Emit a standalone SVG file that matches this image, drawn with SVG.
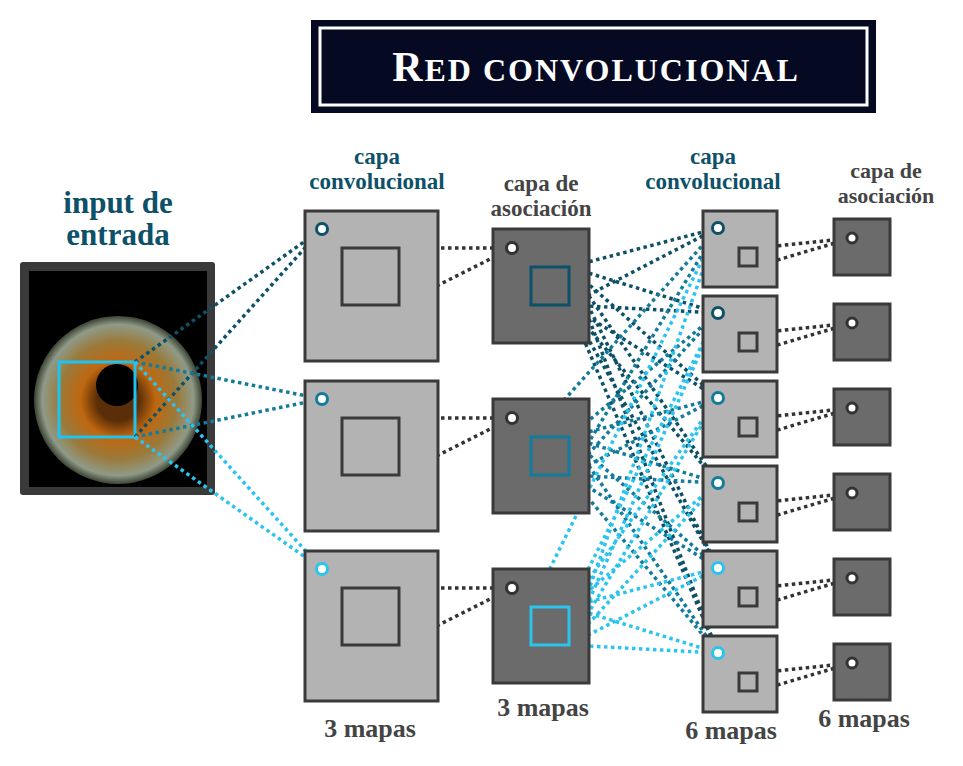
<svg xmlns="http://www.w3.org/2000/svg" width="963" height="766" viewBox="0 0 963 766">
<style>
.lbl{font-family:"Liberation Serif",serif;font-weight:bold;fill:#444;text-anchor:middle}
.tl{font-family:"Liberation Serif",serif;font-weight:bold;fill:#0d5168;text-anchor:middle}
.conv{fill:#b3b3b3;stroke:#3a3a3a;stroke-width:3}
.pool{fill:#6b6b6b;stroke:#3a3a3a;stroke-width:3}
.isq{fill:none;stroke:#3a3a3a;stroke-width:3}
.d{fill:none;stroke-width:3.5;stroke-dasharray:3.5 3.5}
.g{stroke:#333}.c1{stroke:#0d5168}.c2{stroke:#137c9c}.c3{stroke:#2ac4ef}
.wc{fill:#fff;stroke:#333;stroke-width:3}
</style>
<defs>
<radialGradient id="iris" cx="0.5" cy="0.5" r="0.5">
<stop offset="0.25" stop-color="#5a2e08"/><stop offset="0.45" stop-color="#c0670f"/><stop offset="0.7" stop-color="#9a7a3a"/><stop offset="0.9" stop-color="#8f9a88"/><stop offset="1" stop-color="#3c4434"/>
</radialGradient>
</defs>
<rect width="963" height="766" fill="#fff"/>
<g id="title">
<rect x="311" y="20" width="565" height="93" fill="#050a22"/>
<rect x="320" y="28" width="547" height="77" fill="none" stroke="#fff" stroke-width="3"/>
<text x="596" y="81" font-family="Liberation Serif,serif" font-weight="bold" font-size="42" fill="#fff" text-anchor="middle" letter-spacing="2">R<tspan font-size="32">ED CONVOLUCIONAL</tspan></text>
</g>
<g id="input">
<text class="tl" x="118" y="213" font-size="31">input de</text>
<text class="tl" x="118" y="245" font-size="31">entrada</text>
<rect x="20" y="262" width="195" height="233" rx="3" fill="#3a3a3a"/>
<rect x="29" y="271" width="178" height="216" fill="#000"/>
<circle cx="118" cy="400" r="84" fill="url(#iris)"/>
<circle cx="117" cy="385" r="21" fill="#000"/>
<rect x="59" y="362" width="76" height="75" fill="none" stroke="#1ec3f2" stroke-width="3"/>
</g>
<g id="connectors">
<g class="d c1"><path d="M135 362L322 229M135 437L322 229"/></g>
<g class="d c2"><path d="M135 362L322 399M135 437L322 399"/></g>
<g class="d c3"><path d="M135 362L322 569M135 437L322 569"/></g>
<g class="d g">
<path d="M399 248L512 248M399 305L512 248M399 418L512 418M399 475L512 418M399 588L512 588M399 645L512 588"/>
<path d="M757 248L852 238M757 266L852 238M757 333L852 323M757 351L852 323M757 418L852 408M757 436L852 408M757 503L852 493M757 521L852 493M757 588L852 578M757 606L852 578M757 673L852 663M757 691L852 663"/>
</g>
<g class="d c1"><path d="M569 267L718 228M569 305L718 228M569 267L718 313M569 305L718 313M569 267L718 398M569 305L718 398M569 267L718 483M569 305L718 483M569 267L718 568M569 305L718 568M569 267L718 653M569 305L718 653"/></g>
<g class="d c2"><path d="M531 437L718 228M569 475L718 228M569 437L718 313M569 475L718 313M569 437L718 398M569 475L718 398M569 437L718 483M569 475L718 483M569 437L718 568M569 475L718 568M569 437L718 653M569 475L718 653"/></g>
<g class="d c3"><path d="M531 607L718 228M569 645L718 228M569 607L718 313M569 645L718 313M569 607L718 398M569 645L718 398M569 607L718 483M569 645L718 483M569 607L718 568M569 645L718 568M569 607L718 653M569 645L718 653"/></g>
</g>
<g id="conv1">
<text class="tl" x="377" y="164" font-size="23">capa</text>
<text class="tl" x="377" y="189" font-size="23">convolucional</text>
<rect class="conv" x="305" y="211" width="133" height="150"/><rect class="isq" x="342" y="248" width="57" height="57"/>
<rect class="conv" x="305" y="381" width="133" height="150"/><rect class="isq" x="342" y="418" width="57" height="57"/>
<rect class="conv" x="305" y="551" width="133" height="150"/><rect class="isq" x="342" y="588" width="57" height="57"/>
<circle cx="322" cy="229" r="5.5" fill="#fff" stroke="#0d5168" stroke-width="3"/>
<circle cx="322" cy="399" r="5.5" fill="#fff" stroke="#137c9c" stroke-width="3"/>
<circle cx="322" cy="569" r="5.5" fill="#fff" stroke="#2ac4ef" stroke-width="3"/>
<text class="lbl" x="370" y="737" font-size="26">3 mapas</text>
</g>
<g id="pool1">
<text class="lbl" x="541" y="191" font-size="23">capa de</text>
<text class="lbl" x="541" y="216" font-size="23">asociación</text>
<rect class="pool" x="493" y="229" width="96" height="114"/><rect x="531" y="267" width="38" height="38" fill="none" stroke="#0d5168" stroke-width="3"/>
<rect class="pool" x="493" y="399" width="96" height="114"/><rect x="531" y="437" width="38" height="38" fill="none" stroke="#137c9c" stroke-width="3"/>
<rect class="pool" x="493" y="569" width="96" height="114"/><rect x="531" y="607" width="38" height="38" fill="none" stroke="#2ac4ef" stroke-width="3"/>
<circle class="wc" cx="512" cy="248" r="5.5"/><circle class="wc" cx="512" cy="418" r="5.5"/><circle class="wc" cx="512" cy="588" r="5.5"/>
<text class="lbl" x="543" y="716" font-size="26">3 mapas</text>
</g>
<g id="conv2">
<text class="tl" x="713" y="164" font-size="23">capa</text>
<text class="tl" x="713" y="189" font-size="23">convolucional</text>
<rect class="conv" x="703" y="211" width="74" height="76"/><rect class="isq" x="739" y="248" width="18" height="18"/>
<rect class="conv" x="703" y="296" width="74" height="76"/><rect class="isq" x="739" y="333" width="18" height="18"/>
<rect class="conv" x="703" y="381" width="74" height="76"/><rect class="isq" x="739" y="418" width="18" height="18"/>
<rect class="conv" x="703" y="466" width="74" height="76"/><rect class="isq" x="739" y="503" width="18" height="18"/>
<rect class="conv" x="703" y="551" width="74" height="76"/><rect class="isq" x="739" y="588" width="18" height="18"/>
<rect class="conv" x="703" y="636" width="74" height="76"/><rect class="isq" x="739" y="673" width="18" height="18"/>
<circle cx="718" cy="228" r="5.5" fill="#fff" stroke="#0d5168" stroke-width="3"/>
<circle cx="718" cy="313" r="5.5" fill="#fff" stroke="#0d5168" stroke-width="3"/>
<circle cx="718" cy="398" r="5.5" fill="#fff" stroke="#137c9c" stroke-width="3"/>
<circle cx="718" cy="483" r="5.5" fill="#fff" stroke="#137c9c" stroke-width="3"/>
<circle cx="718" cy="568" r="5.5" fill="#fff" stroke="#2ac4ef" stroke-width="3"/>
<circle cx="718" cy="653" r="5.5" fill="#fff" stroke="#2ac4ef" stroke-width="3"/>
<text class="lbl" x="731" y="739" font-size="26">6 mapas</text>
</g>
<g id="pool2">
<text class="lbl" x="886" y="178" font-size="22">capa de</text>
<text class="lbl" x="886" y="203" font-size="22">asociación</text>
<rect class="pool" x="834" y="219" width="56" height="56"/>
<rect class="pool" x="834" y="304" width="56" height="56"/>
<rect class="pool" x="834" y="389" width="56" height="56"/>
<rect class="pool" x="834" y="474" width="56" height="56"/>
<rect class="pool" x="834" y="559" width="56" height="56"/>
<rect class="pool" x="834" y="644" width="56" height="56"/>
<circle class="wc" cx="852" cy="238" r="5"/><circle class="wc" cx="852" cy="323" r="5"/><circle class="wc" cx="852" cy="408" r="5"/>
<circle class="wc" cx="852" cy="493" r="5"/><circle class="wc" cx="852" cy="578" r="5"/><circle class="wc" cx="852" cy="663" r="5"/>
<text class="lbl" x="864" y="727" font-size="26">6 mapas</text>
</g>
</svg>
